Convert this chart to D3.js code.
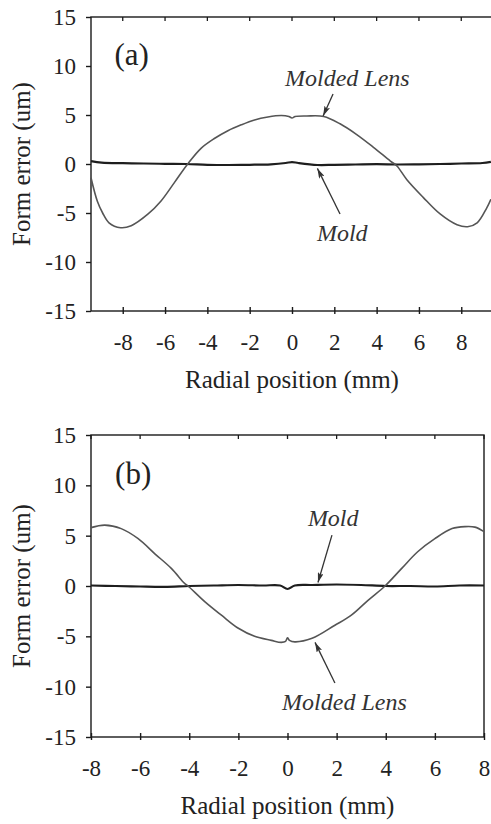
<!DOCTYPE html>
<html>
<head>
<meta charset="utf-8">
<script src="https://d3js.org/d3.v7.min.js"></script>
</head>
<body style="margin:0">
<script>
// ---------- data ----------
var yTicks = [-15, -10, -5, 0, 5, 10, 15];
var xTicksA = [-8, -6, -4, -2, 0, 2, 4, 6, 8];
var xTicksB = [-8, -6, -4, -2, 0, 2, 4, 6, 8];

// panel (a)
var xLensA = [-9.5, -9.2, -8.95, -8.65, -8.1, -7.6, -6.8, -6.2, -5.56, -4.93, -4.3, -3.67, -3.03, -2.4, -1.77, -1.14, -0.5, -0.15, 0, 0.15, 0.7, 1.5, 2.27, 3.06, 3.85, 4.65, 4.96, 5.43, 6.2, 7.0, 7.8, 8.3, 8.75, 9.2, 9.4];
var lensA  = [-1.4, -3.8, -5.0, -6.0, -6.5, -6.3, -5.1, -3.8, -1.9, 0.0, 1.6, 2.6, 3.4, 4.0, 4.5, 4.8, 4.95, 4.85, 4.7, 4.85, 4.9, 4.85, 4.1, 3.0, 1.7, 0.3, -0.2, -1.6, -3.4, -5.1, -6.2, -6.4, -6.0, -4.5, -3.6];
var xMoldA = [-9.5, -9, -8, -7, -6, -5, -4, -3, -2, -1, -0.3, 0, 0.3, 1.2, 2, 3, 4, 5, 6, 7, 8, 9, 9.4];
var moldA  = [0.3, 0.15, 0.08, 0.05, 0.02, 0.0, -0.08, -0.1, -0.08, -0.03, 0.1, 0.2, 0.1, -0.1, -0.08, -0.05, -0.02, -0.05, -0.03, 0.0, 0.05, 0.1, 0.22];

// panel (b)
var xLensB = [-8, -7.44, -6.77, -6.08, -5.4, -4.73, -4.19, -4.05, -3.37, -2.69, -2.0, -1.34, -0.66, -0.25, -0.08, 0, 0.08, 0.3, 1.0, 1.93, 2.6, 3.29, 3.97, 4.65, 5.3, 6.0, 6.7, 7.23, 7.63, 8.0];
var lensB  = [5.8, 6.05, 5.7, 4.7, 3.2, 1.75, 0.26, 0.0, -1.55, -2.9, -4.2, -5.0, -5.4, -5.6, -5.5, -5.15, -5.4, -5.55, -5.2, -3.9, -2.9, -1.4, 0.0, 1.75, 3.4, 4.7, 5.7, 5.9, 5.85, 5.4];
var xMoldB = [-8, -7, -6, -5, -4, -3, -2, -1, -0.3, 0, 0.3, 1, 2, 3, 4, 5, 6, 7, 8];
var moldB  = [0.05, 0.0, -0.05, -0.08, 0.0, 0.05, 0.1, 0.05, 0.05, -0.3, 0.05, 0.1, 0.15, 0.1, 0.0, 0.0, -0.05, 0.05, 0.05];

// annotations, data units: [text, textX, textY, arrowFromX, arrowFromY, arrowToX, arrowToY]
var notesA = [["Molded Lens", -0.33, 8.0, 1.94, 7.14, 1.47, 4.9], ["Mold", 1.18, -7.86, 2.27, -5.1, 1.2, -0.45]];
var notesB = [["Mold", 0.83, 5.96, 1.81, 5.06, 1.24, 0.35], ["Molded Lens", -0.22, -12.3, 1.93, -9.63, 1.12, -5.6]];

var FAMILY = "Liberation Serif";
var INK = "#1a1a1a";
var W = 491, H = 824;
var svg = d3.select("body").append("svg")
  .attr("width", W).attr("height", H)
  .attr("font-family", FAMILY);

svg.append("defs").append("marker")
  .attr("id", "head")
  .attr("viewBox", "0 0 10 6")
  .attr("refX", 10).attr("refY", 3)
  .attr("markerWidth", 10).attr("markerHeight", 6)
  .attr("markerUnits", "userSpaceOnUse")
  .attr("orient", "auto")
  .append("path").attr("d", "M0,0 L10,3 L0,6 L2,3 Z").attr("fill", "#333");

var fmt = function(d) { return String(d); };  // plain hyphen minus, like the original

function serifText(sel, size) {
  return sel.attr("font-family", FAMILY)
    .style("font-family", "'" + FAMILY + "'")
    .attr("font-size", size)
    .style("font-size", size + "px")
    .attr("fill", "#222");
}

function panel(cfg) {
  var x = d3.scaleLinear().domain(cfg.xDom).range([cfg.left, cfg.right]);
  var y = d3.scaleLinear().domain([-15, 15]).range([cfg.bottom, cfg.top]);
  var g = svg.append("g");

  // frame
  g.append("rect")
    .attr("x", cfg.left).attr("y", cfg.top)
    .attr("width", cfg.right - cfg.left).attr("height", cfg.bottom - cfg.top)
    .attr("fill", "none").attr("stroke", INK).attr("stroke-width", 1.4);

  // y axis (ticks outside)
  var yAx = g.append("g")
    .attr("transform", "translate(" + cfg.left + ",0)")
    .call(d3.axisLeft(y).tickValues(yTicks).tickFormat(fmt).tickSize(5).tickPadding(10).tickSizeOuter(0));
  yAx.attr("font-family", FAMILY);
  yAx.select(".domain").remove();
  yAx.selectAll(".tick line").attr("stroke", INK).attr("stroke-width", 1.4);
  serifText(yAx.selectAll(".tick text"), 23);

  // x axis (ticks crossing)
  var xAx = g.append("g")
    .attr("transform", "translate(0," + cfg.bottom + ")")
    .call(d3.axisBottom(x).tickValues(cfg.xTicks).tickFormat(fmt).tickSizeOuter(0));
  xAx.attr("font-family", FAMILY);
  xAx.select(".domain").remove();
  xAx.selectAll(".tick line").attr("y1", -4).attr("y2", 3).attr("stroke", INK).attr("stroke-width", 1.4);
  serifText(xAx.selectAll(".tick text").attr("y", 23), 23);

  // top ticks pointing inward
  g.selectAll(".topTick").data(cfg.xTicks).enter().append("line")
    .attr("x1", function(d) { return x(d); }).attr("x2", function(d) { return x(d); })
    .attr("y1", cfg.top).attr("y2", cfg.top + 4)
    .attr("stroke", INK).attr("stroke-width", 1.3);

  // curves
  var line = d3.line().x(function(d) { return x(d[0]); }).y(function(d) { return y(d[1]); }).curve(d3.curveCatmullRom);
  g.append("path").attr("d", line(d3.zip(cfg.xMold, cfg.mold)))
    .attr("fill", "none").attr("stroke", "#1e1e1e").attr("stroke-width", 2.2);
  g.append("path").attr("d", line(d3.zip(cfg.xLens, cfg.lens)))
    .attr("fill", "none").attr("stroke", "#555").attr("stroke-width", 1.6);

  // annotations
  cfg.notes.forEach(function(n) {
    serifText(g.append("text").attr("x", x(n[1])).attr("y", y(n[2])), 24)
      .attr("font-style", "italic").style("font-style", "italic").attr("fill", "#333")
      .text(n[0]);
    g.append("line")
      .attr("x1", x(n[3])).attr("y1", y(n[4]))
      .attr("x2", x(n[5])).attr("y2", y(n[6]))
      .attr("stroke", "#333").attr("stroke-width", 1.3)
      .attr("marker-end", "url(#head)");
  });

  serifText(g.append("text").attr("x", x(cfg.label[1])).attr("y", y(cfg.label[2])), 31)
    .text(cfg.label[0]);

  // axis titles
  serifText(g.append("text")
    .attr("x", (cfg.left + cfg.right) / 2).attr("y", cfg.bottom + 77)
    .attr("text-anchor", "middle"), 25)
    .text("Radial position (mm)");
  serifText(g.append("text")
    .attr("transform", "translate(30," + ((cfg.top + cfg.bottom) / 2) + ") rotate(-90)")
    .attr("text-anchor", "middle"), 25)
    .text("Form error (um)");
}

panel({
  left: 91, right: 493, top: 17, bottom: 311, xDom: [-9.5, 9.5], xTicks: xTicksA,
  xLens: xLensA, lens: lensA, xMold: xMoldA, mold: moldA, notes: notesA,
  label: ["(a)", -8.39, 10.1]
});
panel({
  left: 91, right: 484, top: 435, bottom: 737, xDom: [-8, 8], xTicks: xTicksB,
  xLens: xLensB, lens: lensB, xMold: xMoldB, mold: moldB, notes: notesB,
  label: ["(b)", -7.02, 10.1]
});
</script>
</body>
</html>
